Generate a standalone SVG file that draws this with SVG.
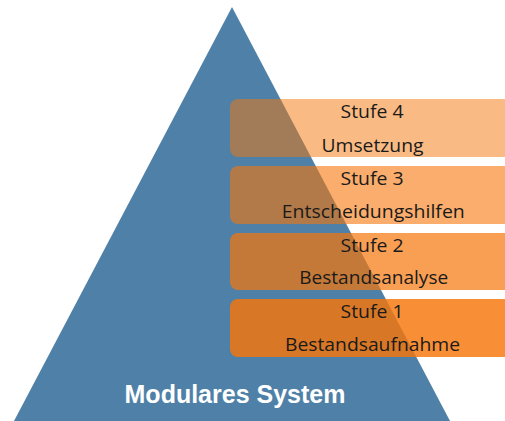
<svg xmlns="http://www.w3.org/2000/svg" width="505" height="421" viewBox="0 0 505 421">
<style>
.band{fill:#F6760A}
.t{font-family:"Open Sans","Liberation Sans",sans-serif;font-size:18.5px;fill:#1a1a1a;text-anchor:middle}
.title{font-family:"Liberation Sans",Arial,sans-serif;font-size:25px;font-weight:bold;fill:#ffffff;text-anchor:middle}
</style>
<rect width="505" height="421" fill="#ffffff"/>
<g id="pyramid">
<polygon points="232,7 450,421 14,421" fill="#4F81A8"/>
<text class="title" x="235" y="403">Modulares System</text>
</g>
<g id="connectors"></g>
<g id="stufe4">
<rect class="band" x="230" y="99" width="290" height="58" rx="8" fill-opacity="0.5"/>
<text class="t" x="372" y="118" textLength="63" lengthAdjust="spacingAndGlyphs">Stufe 4</text>
<text class="t" x="372.5" y="152" textLength="102" lengthAdjust="spacingAndGlyphs">Umsetzung</text>
</g>
<g id="stufe3">
<rect class="band" x="230" y="166" width="290" height="58" rx="8" fill-opacity="0.6"/>
<text class="t" x="372" y="185" textLength="63" lengthAdjust="spacingAndGlyphs">Stufe 3</text>
<text class="t" x="373.3" y="218" textLength="183" lengthAdjust="spacingAndGlyphs">Entscheidungshilfen</text>
</g>
<g id="stufe2">
<rect class="band" x="230" y="233" width="290" height="57" rx="8" fill-opacity="0.7"/>
<text class="t" x="372" y="252" textLength="63" lengthAdjust="spacingAndGlyphs">Stufe 2</text>
<text class="t" x="373.7" y="284" textLength="149" lengthAdjust="spacingAndGlyphs">Bestandsanalyse</text>
</g>
<g id="stufe1">
<rect class="band" x="230" y="299" width="290" height="58" rx="8" fill-opacity="0.82"/>
<text class="t" x="372" y="318" textLength="63" lengthAdjust="spacingAndGlyphs">Stufe 1</text>
<text class="t" x="372.5" y="351" textLength="175" lengthAdjust="spacingAndGlyphs">Bestandsaufnahme</text>
</g>
</svg>
